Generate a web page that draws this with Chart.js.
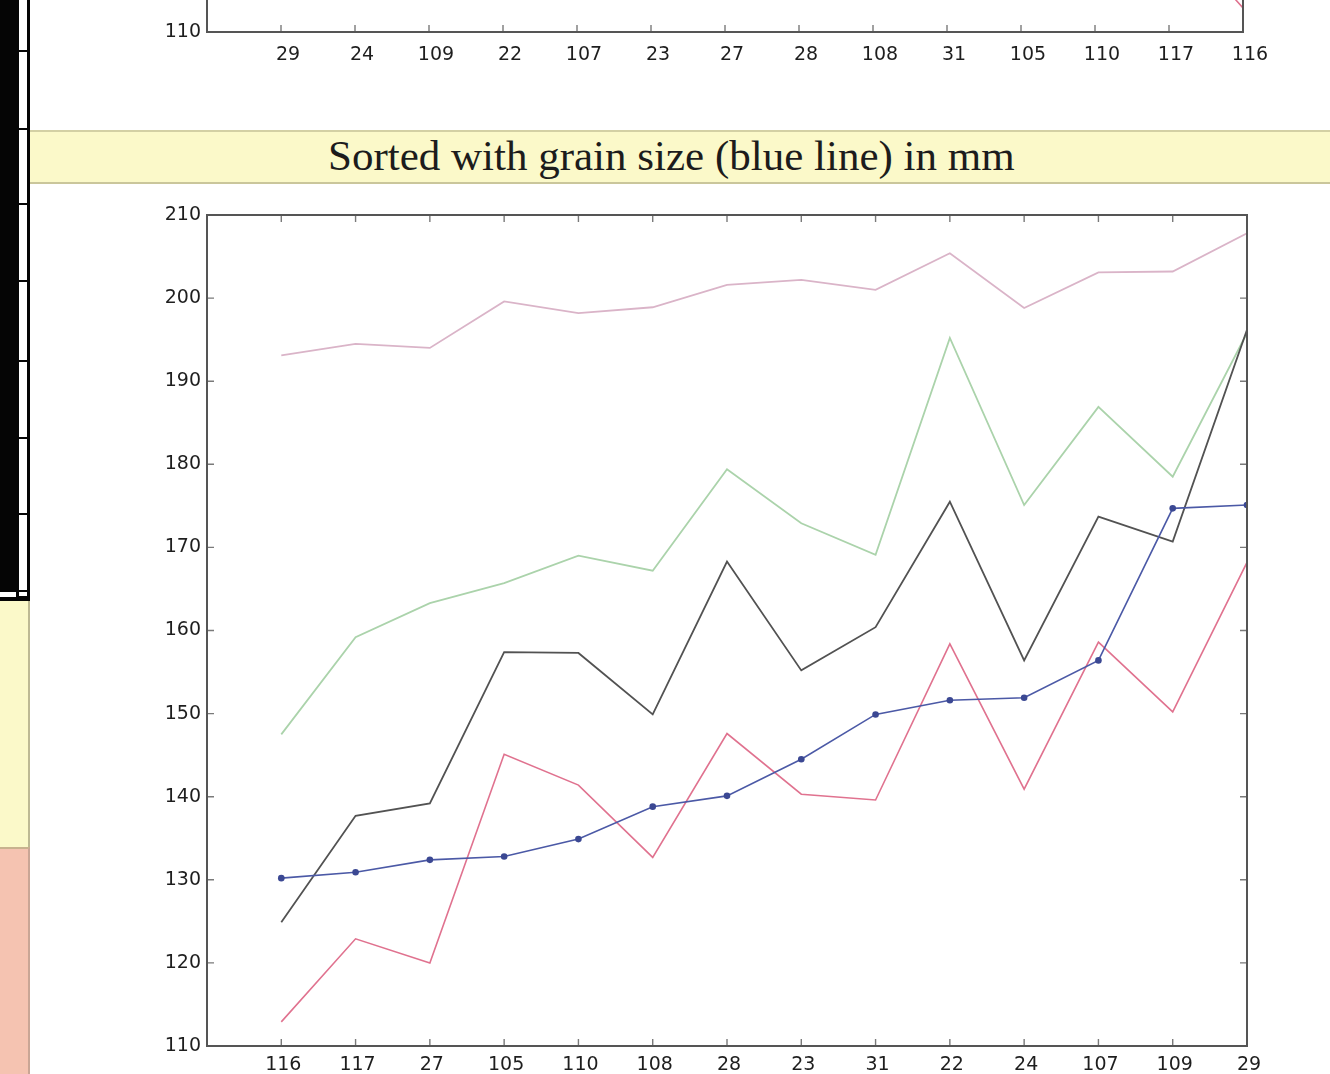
<!DOCTYPE html>
<html>
<head>
<meta charset="utf-8">
<title>Sorted with grain size (blue line) in mm</title>
<script src="https://cdn.jsdelivr.net/npm/chart.js@4.4.1/dist/chart.umd.min.js"></script>
<style>
  html, body { margin: 0; padding: 0; background: #fff; }
  body { position: relative; width: 1330px; height: 1074px; overflow: hidden; }
  #topWrap { position: absolute; left: 0; top: 0; width: 1330px; height: 68px; overflow: hidden; }
  #topChart { position: absolute; left: 0; top: -850px; }
  #mainChart { position: absolute; left: 0; top: 190px; }
  .banner { position: absolute; left: 30px; top: 130px; width: 1300px; height: 50px;
            background: #fbf9c9; border-top: 2px solid #d3d0a4; border-bottom: 2px solid #cac69b; }
  .title { position: absolute; left: 328px; top: 134px; white-space: nowrap;
           font: 43px/43px "Liberation Serif", "Times New Roman", serif; color: #1c1c1c; }
  .blk { position: absolute; background: #050505; }
  .wht { position: absolute; background: #fff; }
  .panel-a { position: absolute; left: 0; top: 601px; width: 28px; height: 246px;
             background: #fbf9c9; border-right: 2px solid #bdb993; }
  .panel-b { position: absolute; left: 0; top: 847px; width: 28px; height: 227px;
             background: #f5c3b1; border-right: 2px solid #c9a595; border-top: 2px solid #c8b28e; }
</style>
</head>
<body>
<div id="topWrap"><canvas id="topChart" width="1330" height="910"></canvas></div>
<canvas id="mainChart" width="1330" height="884"></canvas>

<div class="banner"></div>
<div class="title">Sorted with grain size (blue line) in mm</div>

<!-- left side strip -->
<div class="blk" style="left:0;top:0;width:30px;height:601px;"></div>
<div class="wht" style="left:19px;top:0;width:8px;height:596px;"></div>
<div id="dividers"></div>
<div class="wht" style="left:0;top:592px;width:16px;height:5px;"></div>
<div class="panel-a"></div>
<div class="panel-b"></div>

<script>
// Sample identifiers, in order of increasing grain size
const sampleIds = ['116', '117', '27', '105', '110', '108', '28', '23', '31', '22', '24', '107', '109', '29'];
// Sample order used by the panel above
const upperOrder = ['29', '24', '109', '22', '107', '23', '27', '28', '108', '31', '105', '110', '117', '116'];

// Measured series, one value per sample id (same order as sampleIds)
const grainSize   = [130.2, 130.9, 132.4, 132.8, 134.9, 138.8, 140.1, 144.5, 149.9, 151.6, 151.9, 156.4, 174.7, 175.1];
const redSeries   = [112.9, 122.9, 120.0, 145.1, 141.4, 132.7, 147.6, 140.3, 139.6, 158.4, 140.9, 158.6, 150.2, 168.2];
const blackSeries = [124.9, 137.7, 139.2, 157.4, 157.3, 149.9, 168.3, 155.2, 160.4, 175.5, 156.4, 173.7, 170.7, 196.2];
const greenSeries = [147.5, 159.2, 163.3, 165.7, 169.0, 167.2, 179.4, 172.9, 169.1, 195.2, 175.1, 186.9, 178.5, 195.8];
const pinkSeries  = [193.1, 194.5, 194.0, 199.6, 198.2, 198.9, 201.6, 202.2, 201.0, 205.4, 198.8, 203.1, 203.2, 207.8];

// Value axis
const yMin = 110, yMax = 210, yStep = 10;

// strip dividers
const dividerRows = [50, 128, 203, 280, 360, 437, 513, 590];
const dv = document.getElementById('dividers');
dividerRows.forEach(t => {
  const d = document.createElement('div');
  d.className = 'blk';
  d.style.cssText = `left:19px;top:${t}px;width:9px;height:2px;`;
  dv.appendChild(d);
});

function points(values, order) {
  return order.map((id, i) => ({ x: i + 1, y: values[sampleIds.indexOf(id)] }));
}

function datasets(order) {
  return [
    { data: points(grainSize, order), borderColor: '#4b59a6', borderWidth: 1.6,
      pointRadius: 3.3, pointBackgroundColor: '#3b4893', pointBorderWidth: 0 },
    { data: points(redSeries, order), borderColor: '#e0728f', borderWidth: 1.6, pointRadius: 0 },
    { data: points(blackSeries, order), borderColor: '#525252', borderWidth: 1.8, pointRadius: 0 },
    { data: points(greenSeries, order), borderColor: '#abd3ab', borderWidth: 1.8, pointRadius: 0 },
    { data: points(pinkSeries, order), borderColor: '#dab4c8', borderWidth: 1.8, pointRadius: 0 }
  ];
}

// Box frame with inward tick marks on all four sides
const frameTicks = {
  id: 'frameTicks',
  afterDatasetsDraw(chart, args, opts) {
    const { ctx, chartArea: a, scales: { x, y } } = chart;
    const len = opts.len;
    ctx.save();
    ctx.strokeStyle = '#7a7a7a';
    ctx.lineWidth = 1.4;
    ctx.beginPath();
    for (let i = 1; i <= opts.count; i++) {
      const px = x.getPixelForValue(i);
      ctx.moveTo(px, a.bottom); ctx.lineTo(px, a.bottom - len);
      ctx.moveTo(px, a.top); ctx.lineTo(px, a.top + len);
    }
    y.ticks.forEach(t => {
      const py = y.getPixelForValue(t.value);
      ctx.moveTo(a.left, py); ctx.lineTo(a.left + len, py);
      ctx.moveTo(a.right, py); ctx.lineTo(a.right - len, py);
    });
    ctx.stroke();
    ctx.strokeStyle = '#555';
    ctx.lineWidth = 2;
    ctx.strokeRect(a.left, a.top, a.right - a.left, a.bottom - a.top);
    ctx.restore();
  }
};

const tickFont = { family: '"DejaVu Sans", Arial, sans-serif', size: 19 };

function makeChart(canvasId, order, pad, xPad, labelOffset) {
  return new Chart(document.getElementById(canvasId), {
    type: 'line',
    data: { datasets: datasets(order) },
    plugins: [frameTicks],
    options: {
      responsive: false,
      animation: false,
      events: [],
      layout: { padding: pad },
      plugins: { legend: { display: false }, tooltip: { enabled: false }, frameTicks: { len: 7, count: order.length } },
      elements: { line: { tension: 0 } },
      scales: {
        x: {
          type: 'linear', min: 0, max: order.length,
          afterFit: s => { s.height = 28; },
          grid: { display: false, drawTicks: false },
          border: { display: false },
          ticks: {
            stepSize: 1, autoSkip: false, maxRotation: 0, padding: xPad, labelOffset: labelOffset,
            color: '#1e1e1e', font: tickFont,
            callback: v => (Number.isInteger(v) && v >= 1 && v <= order.length) ? order[v - 1] : ''
          }
        },
        y: {
          min: yMin, max: yMax,
          afterFit: s => { s.width = 207; },
          grid: { display: false, drawTicks: false },
          border: { display: false },
          ticks: { stepSize: yStep, padding: 6, color: '#1e1e1e', font: tickFont }
        }
      }
    }
  });
}

makeChart('topChart', upperOrder, { top: 51, right: 87, bottom: 0, left: 0 }, 12, 7);
makeChart('mainChart', sampleIds, { top: 25, right: 83, bottom: 0, left: 0 }, 8, 2);
</script>
</body>
</html>
